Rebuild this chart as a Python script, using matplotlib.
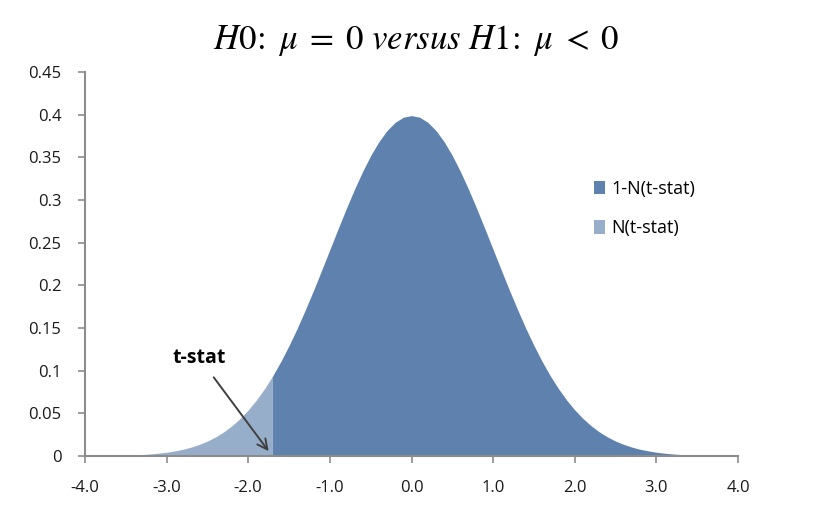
import matplotlib
matplotlib.use("Agg")
import matplotlib.pyplot as plt

# density, x from -4.0 to 4.0 in steps of 0.1
x_values = [-4.0, -3.9, -3.8, -3.7, -3.6, -3.5, -3.4, -3.3, -3.2, -3.1,
            -3.0, -2.9, -2.8, -2.7, -2.6, -2.5, -2.4, -2.3, -2.2, -2.1,
            -2.0, -1.9, -1.8, -1.7, -1.6, -1.5, -1.4, -1.3, -1.2, -1.1,
            -1.0, -0.9, -0.8, -0.7, -0.6, -0.5, -0.4, -0.3, -0.2, -0.1,
            0.0, 0.1, 0.2, 0.3, 0.4, 0.5, 0.6, 0.7, 0.8, 0.9,
            1.0, 1.1, 1.2, 1.3, 1.4, 1.5, 1.6, 1.7, 1.8, 1.9,
            2.0, 2.1, 2.2, 2.3, 2.4, 2.5, 2.6, 2.7, 2.8, 2.9,
            3.0, 3.1, 3.2, 3.3, 3.4, 3.5, 3.6, 3.7, 3.8, 3.9, 4.0]
density = [0.0001, 0.0002, 0.0003, 0.0004, 0.0006, 0.0009, 0.0012, 0.0017, 0.0024, 0.0033,
           0.0044, 0.0060, 0.0079, 0.0104, 0.0136, 0.0175, 0.0224, 0.0283, 0.0355, 0.0440,
           0.0540, 0.0656, 0.0790, 0.0940, 0.1109, 0.1295, 0.1497, 0.1714, 0.1942, 0.2179,
           0.2420, 0.2661, 0.2897, 0.3123, 0.3332, 0.3521, 0.3683, 0.3814, 0.3910, 0.3970,
           0.3989, 0.3970, 0.3910, 0.3814, 0.3683, 0.3521, 0.3332, 0.3123, 0.2897, 0.2661,
           0.2420, 0.2179, 0.1942, 0.1714, 0.1497, 0.1295, 0.1109, 0.0940, 0.0790, 0.0656,
           0.0540, 0.0440, 0.0355, 0.0283, 0.0224, 0.0175, 0.0136, 0.0104, 0.0079, 0.0060,
           0.0044, 0.0033, 0.0024, 0.0017, 0.0012, 0.0009, 0.0006, 0.0004, 0.0003, 0.0002, 0.0001]

t_stat = -1.71
t_density = 0.0925

x_ticks = [-4.0, -3.0, -2.0, -1.0, 0.0, 1.0, 2.0, 3.0, 4.0]
y_ticks = [0, 0.05, 0.1, 0.15, 0.2, 0.25, 0.3, 0.35, 0.4, 0.45]
y_labels = ["0", "0.05", "0.1", "0.15", "0.2", "0.25", "0.3", "0.35", "0.4", "0.45"]

dark = "#5E82AD"
light = "#96AECA"
axis_gray = "#8C8C8C"

plt.rcParams["font.family"] = ["Open Sans", "DejaVu Sans"]
plt.rcParams["mathtext.fontset"] = "stix"

# split the curve at the t-stat
left_x = [x for x in x_values if x < t_stat] + [t_stat]
left_y = [d for x, d in zip(x_values, density) if x < t_stat] + [t_density]
right_x = [t_stat] + [x for x in x_values if x > t_stat]
right_y = [t_density] + [d for x, d in zip(x_values, density) if x > t_stat]

fig = plt.figure(figsize=(8.33, 5.11), dpi=100)
ax = fig.add_axes([85 / 833, 1 - 456 / 511, 653 / 833, 384 / 511])

ax.fill_between(right_x, 0, right_y, color=dark, linewidth=0, label="1-N(t-stat)")
ax.fill_between(left_x, 0, left_y, color=light, linewidth=0, label="N(t-stat)")

ax.set_xlim(-4, 4)
ax.set_ylim(0, 0.45)
ax.set_xticks(x_ticks)
ax.set_xticklabels([f"{t:.1f}" for t in x_ticks])
ax.set_yticks(y_ticks)
ax.set_yticklabels(y_labels)

for side in ["top", "right"]:
    ax.spines[side].set_visible(False)
for side in ["left", "bottom"]:
    ax.spines[side].set_color(axis_gray)
    ax.spines[side].set_linewidth(1.5)
ax.tick_params(axis="both", colors=axis_gray, labelcolor="#1a1a1a", labelsize=12,
               length=5, width=1.2)
ax.tick_params(axis="x", pad=12)
ax.tick_params(axis="y", pad=12)

ax.annotate("t-stat", xy=(t_stat - 0.02, 0.003), xytext=(-2.6, 0.115),
            fontsize=14, fontweight="bold", ha="center", va="center",
            arrowprops=dict(arrowstyle="->", color="#404040", lw=1.4,
                            mutation_scale=18, shrinkA=6))

leg = ax.legend(loc="upper left", bbox_to_anchor=(0.755, 0.762), frameon=False,
                fontsize=13, handlelength=0.6, handleheight=0.75,
                labelspacing=1.2, handletextpad=0.35)

fig.text(0.5, 0.92,
         r"$H0\!\mathrm{:}\ \mu\;=\;0\ versus\ H1\!\mathrm{:}\ \mu\;<\;0$",
         ha="center", va="center", fontsize=25)

fig.savefig("out.png", dpi=100)
